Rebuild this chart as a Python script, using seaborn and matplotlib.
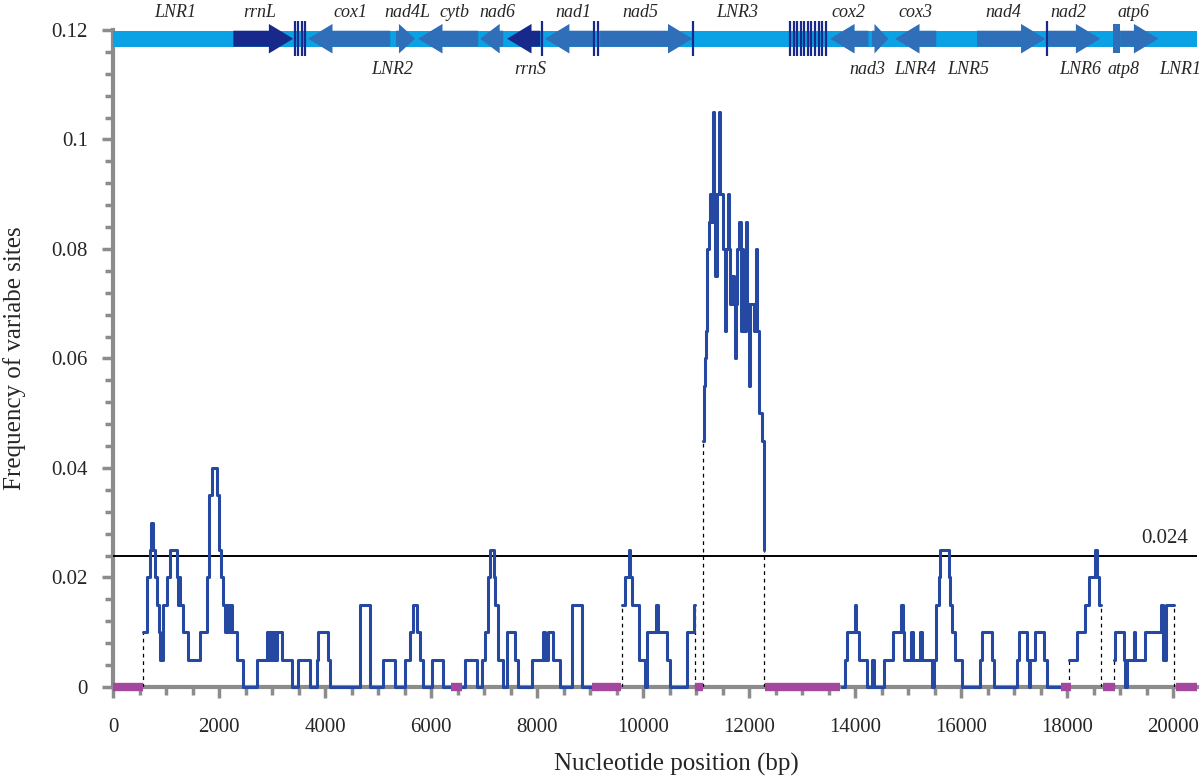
import matplotlib
matplotlib.use("Agg")
import pandas as pd
import matplotlib.pyplot as plt
import seaborn as sns
from matplotlib.patches import Rectangle, Polygon
from matplotlib.ticker import MultipleLocator, FuncFormatter

# sliding window values, (window start bp, frequency of variable sites), one list per stretch
seg_a = [(572, 0.010), (636, 0.020), (698, 0.025), (720, 0.030), (760, 0.025), (790, 0.020),
         (824, 0.015), (860, 0.010), (887, 0.005), (950, 0.015), (1013, 0.020), (1076, 0.025),
         (1202, 0.020), (1230, 0.015), (1250, 0.020), (1270, 0.015), (1327, 0.010), (1421, 0.005),
         (1642, 0.010), (1768, 0.020), (1810, 0.035), (1870, 0.040), (1957, 0.035), (2000, 0.025),
         (2032, 0.020), (2082, 0.015), (2120, 0.010), (2145, 0.015), (2180, 0.010), (2210, 0.015),
         (2250, 0.010), (2334, 0.005), (2459, 0.000), (2711, 0.005), (2900, 0.010), (2930, 0.005),
         (2960, 0.010), (3000, 0.005), (3025, 0.010), (3060, 0.005), (3100, 0.010), (3183, 0.005),
         (3372, 0.000), (3497, 0.005), (3717, 0.000), (3844, 0.005), (3874, 0.010), (4063, 0.005),
         (4095, 0.000), (4661, 0.015), (4850, 0.000), (5100, 0.005), (5321, 0.000), (5510, 0.005),
         (5604, 0.010), (5667, 0.015), (5730, 0.010), (5793, 0.005), (5856, 0.000), (6013, 0.005),
         (6233, 0.000), (6642, 0.005), (6862, 0.000), (6957, 0.005), (7020, 0.010), (7080, 0.020),
         (7114, 0.025), (7190, 0.020), (7209, 0.015), (7272, 0.005), (7366, 0.000), (7429, 0.010),
         (7586, 0.005), (7649, 0.000), (7901, 0.005), (8121, 0.010), (8152, 0.005), (8215, 0.010),
         (8309, 0.005), (8435, 0.000), (8655, 0.015), (8844, 0.000), (9039, 0.000)]
seg_b = [(9600, 0.015), (9650, 0.020), (9726, 0.025), (9758, 0.020), (9789, 0.015), (9915, 0.005),
         (10041, 0.000), (10070, 0.010), (10246, 0.015), (10280, 0.010), (10448, 0.005),
         (10511, 0.000), (10825, 0.010), (10951, 0.015), (10983, 0.015)]
seg_c = [(11128, 0.045), (11152, 0.055), (11165, 0.060), (11190, 0.065), (11215, 0.080),
         (11234, 0.085), (11266, 0.090), (11298, 0.085), (11328, 0.105), (11345, 0.090),
         (11360, 0.075), (11392, 0.090), (11435, 0.105), (11454, 0.090), (11505, 0.080),
         (11549, 0.065), (11565, 0.080), (11600, 0.090), (11620, 0.080), (11643, 0.070),
         (11675, 0.075), (11710, 0.070), (11737, 0.060), (11760, 0.070), (11781, 0.080),
         (11810, 0.085), (11840, 0.065), (11870, 0.080), (11894, 0.065), (11939, 0.085),
         (11960, 0.070), (11989, 0.055), (12020, 0.070), (12083, 0.065), (12128, 0.080),
         (12158, 0.065), (12196, 0.050), (12240, 0.045), (12285, 0.025)]
seg_d = [(13750, 0.000), (13813, 0.005), (13845, 0.010), (13990, 0.015), (14020, 0.010),
         (14065, 0.005), (14222, 0.000), (14317, 0.005), (14349, 0.000), (14537, 0.005),
         (14712, 0.010), (14870, 0.015), (14900, 0.010), (14913, 0.005), (15060, 0.010),
         (15085, 0.005), (15230, 0.010), (15255, 0.005), (15449, 0.000), (15480, 0.005),
         (15530, 0.015), (15575, 0.020), (15606, 0.025), (15763, 0.020), (15794, 0.015),
         (15826, 0.010), (15889, 0.005), (16015, 0.000), (16361, 0.005), (16392, 0.010),
         (16581, 0.005), (16612, 0.000), (17052, 0.005), (17084, 0.010), (17241, 0.005),
         (17273, 0.000), (17304, 0.005), (17398, 0.010), (17555, 0.005), (17618, 0.000),
         (17889, 0.000)]
seg_e = [(18027, 0.005), (18185, 0.010), (18342, 0.015), (18404, 0.020), (18530, 0.025),
         (18560, 0.020), (18610, 0.015), (18637, 0.015)]
seg_f = [(18877, 0.005), (18908, 0.010), (19066, 0.005), (19090, 0.000), (19129, 0.005),
         (19255, 0.010), (19286, 0.005), (19474, 0.010), (19780, 0.015), (19810, 0.005),
         (19870, 0.015), (20008, 0.015)]

# stretches without variable sites (purple marks on the axis)
empty_start = [0, 6380, 9040, 10985, 12300, 17890, 18680, 20060]
empty_end = [570, 6580, 9590, 11130, 13720, 18080, 18910, 20450]

threshold = 0.024
genome_len = 20450

# gene map along the top: name, start, end, strand (1 right, -1 left, 0 box), type
gene_name = ["rrnL", "cox1", "nad4L", "cytb", "nad6", "rrnS", "nad1", "nad5",
             "cox2", "nad3", "cox3", "nad4", "nad2", "atp8", "atp6"]
gene_start = [2270, 3680, 5340, 5755, 6925, 7435, 8150, 9190,
              13530, 14320, 14755, 16300, 17645, 18870, 19000]
gene_end = [3400, 5230, 5700, 6890, 7360, 8060, 9060, 10930,
            14250, 14625, 15530, 17590, 18625, 19000, 19720]
gene_strand = [1, -1, 1, -1, -1, -1, -1, 1, -1, 1, -1, 1, 1, 0, 1]
gene_type = ["rRNA", "pcg", "pcg", "pcg", "pcg", "rRNA", "pcg", "pcg",
             "pcg", "pcg", "pcg", "pcg", "pcg", "pcg", "pcg"]
trna_pos = [3434, 3491, 3566, 3623, 8095, 9076, 9152, 10945,
            12775, 12840, 12905, 12975, 13040, 13110, 13175, 13245, 13310, 13380, 13450, 17625]

# labels: text, x (bp), above/below the bar
label_text = ["LNR1", "rrnL", "cox1", "nad4L", "cytb", "nad6", "nad1", "nad5", "LNR3",
              "cox2", "cox3", "nad4", "nad2", "atp6",
              "LNR2", "rrnS", "nad3", "LNR4", "LNR5", "LNR6", "atp8", "LNR1"]
label_x = [1170, 2760, 4470, 5550, 6450, 7250, 8680, 9950, 11780,
           13870, 15130, 16800, 18020, 19250,
           5270, 7870, 14230, 15140, 16130, 18250, 19060, 20130]
label_side = ["top"] * 14 + ["bottom"] * 8

GREY = "#8c8c8c"
CURVE = "#2549a2"
LIGHT = "#0aa2e4"
MID = "#2f6eb8"
NAVY = "#17298a"
PURPLE = "#a4479f"

sns.set_style("ticks")
plt.rcParams["font.family"] = ["Liberation Serif", "DejaVu Serif"]

rows = []
for seg_id, seg in enumerate([seg_a, seg_b, seg_c, seg_d, seg_e, seg_f]):
    for p, f in seg:
        rows.append({"pos": p, "freq": f, "segment": seg_id})
df = pd.DataFrame(rows)

fig = plt.figure(figsize=(12, 7.78), dpi=100)
ax = fig.add_axes([0.0942, 0.117, 0.9033, 0.8445])

sns.lineplot(data=df, x="pos", y="freq", units="segment", estimator=None, sort=False,
             color=CURVE, lw=2.2, drawstyle="steps-post", legend=False,
             zorder=3, clip_on=False, ax=ax)

# dashed drop lines where a stretch starts or stops above zero
for seg_id, g in df.groupby("segment"):
    for r in (g.iloc[0], g.iloc[-1]):
        if r["freq"] > 0:
            ax.vlines(r["pos"], 0, r["freq"], colors="black", linestyles=(0, (3, 3)),
                      lw=0.9, zorder=2.6)

ax.axhline(threshold, color="black", lw=1.4, zorder=2.7)
ax.text(20290, threshold + 0.0032, "0.024", ha="right", va="center", fontsize=15)

ax.hlines([0] * len(empty_start), empty_start, empty_end, colors=PURPLE, lw=6,
          zorder=4, clip_on=False)

# gene map
yc = 0.1184
body = 0.00146
head = 0.0027
tall = 0.0032
ax.add_patch(Rectangle((0, yc - body), genome_len, 2 * body, color=LIGHT,
                       clip_on=False, zorder=5, lw=0))
for s, e, st, t in zip(gene_start, gene_end, gene_strand, gene_type):
    col = NAVY if t == "rRNA" else MID
    if st == 0:
        patch = Rectangle((s, yc - head), e - s, 2 * head, color=col, lw=0)
    else:
        hl = min(460, 0.85 * (e - s))
        if st == 1:
            b = e - hl
            pts = [(s, yc - body), (b, yc - body), (b, yc - head), (e, yc),
                   (b, yc + head), (b, yc + body), (s, yc + body)]
        else:
            b = s + hl
            pts = [(e, yc - body), (b, yc - body), (b, yc - head), (s, yc),
                   (b, yc + head), (b, yc + body), (e, yc + body)]
        patch = Polygon(pts, closed=True, color=col, lw=0)
    patch.set_clip_on(False)
    patch.set_zorder(6)
    ax.add_patch(patch)
ax.vlines(trna_pos, yc - tall, yc + tall, colors=NAVY, lw=1.6, zorder=7, clip_on=False)

for txt, x, side in zip(label_text, label_x, label_side):
    y = 0.1232 if side == "top" else 0.1127
    ax.text(x, y, txt, ha="center", va="center", fontsize=13, style="italic",
            clip_on=False)

ax.set_xlim(0, genome_len)
ax.set_ylim(0, 0.12)
ax.xaxis.set_major_locator(MultipleLocator(2000))
ax.xaxis.set_minor_locator(MultipleLocator(500))
ax.yaxis.set_major_locator(MultipleLocator(0.02))
ax.yaxis.set_minor_locator(MultipleLocator(0.004))
ax.yaxis.set_major_formatter(FuncFormatter(lambda v, p: f"{v:g}"))

sns.despine(ax=ax)
for side in ["left", "bottom"]:
    ax.spines[side].set_color(GREY)
    ax.spines[side].set_linewidth(3)
ax.tick_params(which="both", direction="out", color=GREY, width=2.5, labelsize=15)
ax.tick_params(which="major", length=8)
ax.tick_params(which="minor", length=6)
ax.tick_params(axis="x", pad=14)
ax.tick_params(axis="y", pad=10)

ax.set_xlabel("Nucleotide position (bp)", fontsize=18)
ax.set_ylabel("Frequency of variabe sites", fontsize=18)
ax.xaxis.set_label_coords(0.52, -0.1)
ax.yaxis.set_label_coords(-0.08, 0.5)

fig.savefig("out.png", dpi=100)
